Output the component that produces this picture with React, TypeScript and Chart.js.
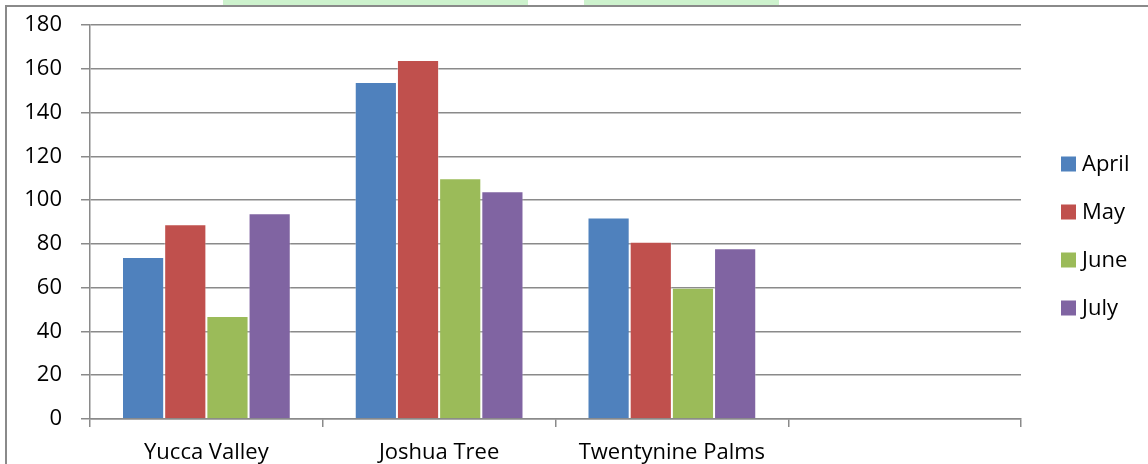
import React, { useEffect, useRef } from "react";
import { Chart, registerables } from "chart.js";

Chart.register(...registerables);

const categories = ["Yucca Valley", "Joshua Tree", "Twentynine Palms", ""];
const seriesNames = ["April", "May", "June", "July"];
const april = [74, 154, 92, null];
const may = [89, 164, 81, null];
const june = [47, 110, 60, null];
const july = [94, 104, 78, null];
const seriesColors = ["#4F81BD", "#C0504D", "#9BBB59", "#8064A2"];
const yTicks = [0, 20, 40, 60, 80, 100, 120, 140, 160, 180];

const FONT = "'Open Sans', Lato, sans-serif";
const FONT_SIZE = 22;
const GRID = "#8a8a8a";

const framePlugin = {
  id: "frame",
  beforeDraw(chart: any) {
    const ctx = chart.ctx;
    ctx.save();
    ctx.fillStyle = "#ffffff";
    ctx.fillRect(0, 0, chart.width, chart.height);
    // faint watermark remnants at the top edge
    ctx.fillStyle = "#cdf2cd";
    ctx.fillRect(223, 0, 305, 5);
    ctx.fillRect(584, 0, 195, 5);
    // outer chart border (cropped at right/bottom)
    ctx.strokeStyle = GRID;
    ctx.lineWidth = 2;
    ctx.strokeRect(6, 6, chart.width + 40, chart.height + 40);
    ctx.restore();
  },
  afterDraw(chart: any) {
    const ctx = chart.ctx;
    const area = chart.chartArea;
    ctx.save();
    ctx.font = `${FONT_SIZE}px ${FONT}`;
    ctx.textBaseline = "middle";
    ctx.textAlign = "left";
    const x0 = area.right + 40;
    const midY = 236;
    const step = 48;
    const n = chart.data.datasets.length;
    chart.data.datasets.forEach((ds: any, i: number) => {
      const y = midY + (i - (n - 1) / 2) * step;
      ctx.fillStyle = ds.backgroundColor;
      ctx.fillRect(x0, y - 7.5, 15, 15);
      ctx.fillStyle = "#000000";
      ctx.fillText(ds.label, x0 + 21, y + 1);
    });
    ctx.restore();
  },
};

export default function App() {
  const ref = useRef<HTMLCanvasElement>(null);
  useEffect(() => {
    if (!ref.current) return;
    const seriesData = [april, may, june, july];
    const chart = new Chart(ref.current, {
      type: "bar",
      data: {
        labels: categories,
        datasets: seriesNames.map((name, i) => ({
          label: name,
          data: seriesData[i],
          backgroundColor: seriesColors[i],
          borderColor: "rgba(255,255,255,0.35)",
          borderWidth: 1,
          categoryPercentage: 0.725,
          barPercentage: 1.0,
        })),
      },
      options: {
        animation: false,
        responsive: false,
        devicePixelRatio: 1,
        layout: { padding: { top: 25, right: 127, left: 0, bottom: 0 } },
        plugins: {
          legend: { display: false },
          tooltip: { enabled: false },
        },
        scales: {
          x: {
            offset: true,
            grid: {
              offset: true,
              drawOnChartArea: false,
              drawTicks: true,
              tickLength: 8,
              color: GRID,
              lineWidth: 1.5,
            },
            border: { display: true, color: GRID, width: 1.5 },
            ticks: {
              color: "#000",
              font: { family: FONT, size: FONT_SIZE },
              padding: 13,
              maxRotation: 0,
              autoSkip: false,
            },
            afterFit(scale: any) {
              scale.height = 45;
              scale.paddingLeft = 0;
              scale.paddingRight = 0;
            },
          },
          y: {
            min: 0,
            max: 180,
            afterBuildTicks(scale: any) {
              scale.ticks = yTicks.map((v) => ({ value: v }));
            },
            grid: {
              color: GRID,
              lineWidth: 1.5,
              tickLength: 9,
              drawTicks: true,
            },
            border: { display: true, color: GRID, width: 1.5 },
            ticks: {
              color: "#000",
              font: { family: FONT, size: FONT_SIZE },
              padding: 19,
            },
            afterFit(scale: any) {
              scale.width = 90;
              scale.paddingTop = 0;
              scale.paddingBottom = 0;
            },
          },
        },
      },
      plugins: [framePlugin],
    });
    return () => chart.destroy();
  }, []);
  return (
    <div style={{ position: "fixed", left: 0, top: 0, width: 1148, height: 464 }}>
      <canvas ref={ref} width={1148} height={464} />
    </div>
  );
}
